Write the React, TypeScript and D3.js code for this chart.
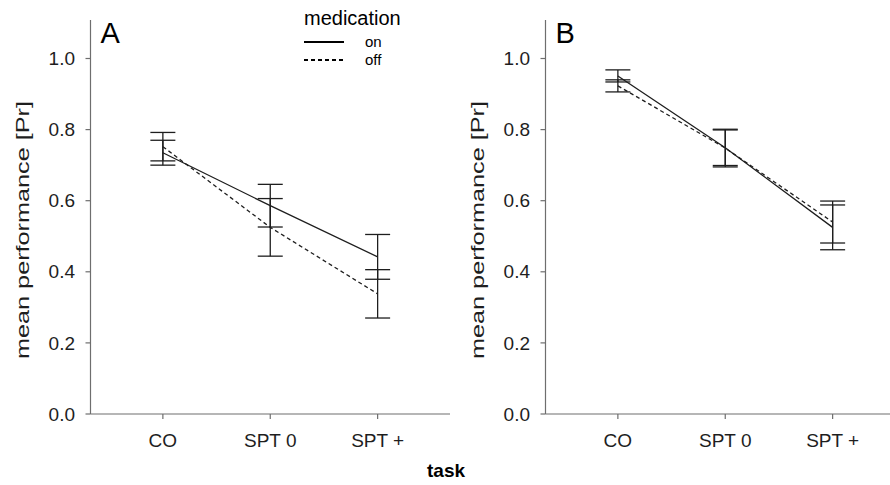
import React from "react";
import * as d3 from "d3";

const categories = ["CO", "SPT 0", "SPT +"];
const yTicks = [0, 0.2, 0.4, 0.6, 0.8, 1.0];

const panelAOnMean = [0.735, 0.586, 0.442];
const panelAOnErr = [0.035, 0.06, 0.063];
const panelAOffMean = [0.752, 0.525, 0.338];
const panelAOffErr = [0.04, 0.081, 0.068];

const panelBOnMean = [0.951, 0.749, 0.525];
const panelBOnErr = [0.017, 0.05, 0.063];
const panelBOffMean = [0.923, 0.748, 0.54];
const panelBOffErr = [0.017, 0.053, 0.059];

const FONT = "'Liberation Sans', Arial, Helvetica, sans-serif";
const INK = "#1e1e1e";
const AXIS = "#6e6e6e";

const y = d3.scaleLinear().domain([0, 1.1]).range([414, 414 - 1.1 * 355.5]);

type Series = { mean: number[]; err: number[]; dash?: string };

function Panel({
  x0,
  x1,
  letter,
  series,
}: {
  x0: number;
  x1: number;
  letter: string;
  series: Series[];
}) {
  const x = d3.scalePoint<string>().domain(categories).range([x0, x1]).padding(0.674);
  const line = d3
    .line<number>()
    .x((_, i) => x(categories[i]) as number)
    .y((d) => y(d));
  const cap = 12.5;
  return (
    <g>
      {/* axes */}
      <line x1={x0} x2={x0} y1={y(0)} y2={y(1.1) - 3} stroke={AXIS} strokeWidth={1.2} />
      <line x1={x0} x2={x1} y1={y(0)} y2={y(0)} stroke={AXIS} strokeWidth={1.2} />
      {yTicks.map((t) => (
        <g key={t}>
          <line x1={x0 - 5} x2={x0} y1={y(t)} y2={y(t)} stroke={AXIS} strokeWidth={1.2} />
          <text
            x={x0 - 15.5}
            y={y(t)}
            dy="0.35em"
            textAnchor="end"
            fontSize={19}
            fontFamily={FONT}
            fill={INK}
          >
            {t.toFixed(1)}
          </text>
        </g>
      ))}
      {categories.map((c) => (
        <g key={c}>
          <line x1={x(c)} x2={x(c)} y1={y(0)} y2={y(0) + 5} stroke={AXIS} strokeWidth={1.2} />
          <text
            x={x(c)}
            y={447}
            textAnchor="middle"
            fontSize={19}
            fontFamily={FONT}
            fill={INK}
          >
            {c}
          </text>
        </g>
      ))}
      <text
        transform={`translate(${x0 - 68},230) rotate(-90)`}
        textAnchor="middle"
        dy="0.35em"
        fontSize={19}
        fontFamily={FONT}
        fill={INK}
        textLength={258}
        lengthAdjust="spacingAndGlyphs"
      >
        mean performance [Pr]
      </text>
      <text x={x0 + 10} y={43} fontSize={29} fontFamily={FONT} fill="#000">
        {letter}
      </text>
      {/* error bars */}
      {series.map((s, si) =>
        s.mean.map((m, i) => {
          const cx = x(categories[i]) as number;
          const lo = y(m - s.err[i]);
          const hi = y(m + s.err[i]);
          return (
            <g key={`${si}-${i}`} stroke={INK} strokeWidth={1.3}>
              <line x1={cx} x2={cx} y1={lo} y2={hi} />
              <line x1={cx - cap} x2={cx + cap} y1={lo} y2={lo} />
              <line x1={cx - cap} x2={cx + cap} y1={hi} y2={hi} />
            </g>
          );
        })
      )}
      {/* mean lines */}
      {series.map((s, si) => (
        <path
          key={si}
          d={line(s.mean) as string}
          fill="none"
          stroke={INK}
          strokeWidth={1.3}
          strokeDasharray={s.dash}
        />
      ))}
    </g>
  );
}

export default function App() {
  return (
    <svg
      width={890}
      height={485}
      style={{ position: "absolute", left: 0, top: 0, background: "#fff" }}
    >
      <rect width={890} height={485} fill="#fff" />
      <Panel
        x0={90.5}
        x1={450}
        letter="A"
        series={[
          { mean: panelAOnMean, err: panelAOnErr },
          { mean: panelAOffMean, err: panelAOffErr, dash: "4,3" },
        ]}
      />
      <Panel
        x0={545.5}
        x1={905}
        letter="B"
        series={[
          { mean: panelBOnMean, err: panelBOnErr },
          { mean: panelBOffMean, err: panelBOffErr, dash: "4,3" },
        ]}
      />
      {/* legend */}
      <text x={304} y={25} fontSize={20} fontFamily={FONT} fill="#000">
        medication
      </text>
      <line x1={304} x2={344} y1={42} y2={42} stroke="#000" strokeWidth={2} />
      <text x={365} y={47} fontSize={15} fontFamily={FONT} fill="#000">
        on
      </text>
      <line x1={304} x2={344} y1={60} y2={60} stroke="#000" strokeWidth={2} strokeDasharray="4,3" />
      <text x={365} y={65} fontSize={15} fontFamily={FONT} fill="#000">
        off
      </text>
      <text
        x={446}
        y={477}
        textAnchor="middle"
        fontSize={19}
        fontWeight="bold"
        fontFamily={FONT}
        fill="#000"
      >
        task
      </text>
    </svg>
  );
}
